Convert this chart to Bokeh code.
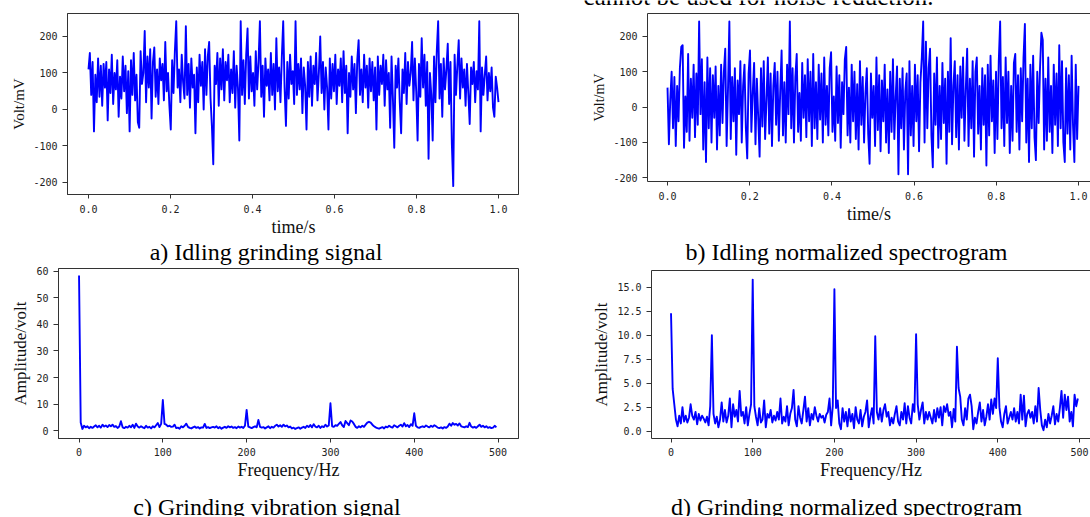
import numpy as np
from bokeh.plotting import figure
from bokeh.layouts import column, row
from bokeh.models import Range1d, FixedTicker, NumeralTickFormatter, LinearAxis, ColumnDataSource
from bokeh.embed import file_html
from bokeh.resources import INLINE
from bokeh.core.properties import value

# ---------------- data ----------------
idle_signal = [
    110, 155, 40, 130, -60, 95, 20, 140, 35, 120,
    10, 125, 60, 130, -30, 110, 45, 150, 15, 100,
    55, 135, -20, 90, 30, 145, 50, 120, -10, 105,
    -60, 135, 40, 155, 25, 95, -35, -50, 160, 70,
    100, 215, 20, 145, 60, 165, -25, 130, 170, 35,
    110, 15, 140, 80, 125, 25, 185, 50, 100, 10,
    -55, 135, 45, 160, 242, 60, 110, 20, 150, 75,
    30, 228, 40, 125, 5, 140, 60, 95, -65, 115,
    20, 150, 65, 130, 0, 165, 40, 145, 185, 30,
    -45, -150, 120, 70, 155, 10, 140, 55, 165, 25,
    130, 80, 150, 20, 110, 45, 160, 5, 120, 60,
    -85, 242, 40, 135, 15, 150, 222, 30, 145, 50,
    100, 10, 160, 55, 130, 242, 35, 120, -20, 140,
    65, 110, 25, 155, 40, 125, 0, 195, 50, 115,
    20, 145, 242, 60, -45, 130, 30, 150, 70, 105,
    15, 242, 40, 125, 55, 140, -10, 115, 65, -55,
    130, 35, 145, 10, 120, 70, 155, 25, 100, 200,
    45, 130, 0, 115, 60, -55, 140, 30, 125, 50,
    150, 15, 110, 65, 140, 20, 160, 45, 120, -65,
    100, 35, 145, 55, 125, -10, 135, 190, 40, 110,
    20, 150, 60, 120, 5, 140, 50, 130, 25, 115,
    -55, 145, 40, 120, 70, 150, 10, 135, 55, 100,
    -50, 145, 30, -105, 120, 60, 140, 20, -65, 110,
    45, 155, 15, 130, 65, 100, 185, 25, 140, 50,
    -85, 125, 35, 195, 60, 150, 10, 130, -135, 100,
    40, -85, 145, 20, 160, 242, 30, 125, -20, 140,
    55, 110, 180, 15, 130, -95, -210, 150, 40, 120,
    190, 30, 140, 60, 110, 10, 125, 45, -40, 115,
    70, 130, 20, 105, 55, 242, -60, 115, 40, 95,
    145, 25, 100, 50, 115, 5, -20, 90, 60, 20,
]

idle_normalized = [
    55, -105, 20, 100, -60, 85, -110, 60, -40, 110,
    170, 175, -115, 30, -70, 150, -95, 80, -30, 120,
    -85, 95, -50, 242, -20, 135, -120, 70, -155, 140,
    -60, 110, -100, 90, -30, 115, -120, 60, -80, 120,
    -45, 100, 165, -110, 50, 242, -90, 85, -40, 110,
    -135, 75, -20, 130, -100, 60, 120, -60, -145, 95,
    160, -70, 40, 125, -105, 80, -30, -140, 110, -55,
    130, -90, 20, 140, -75, 95, -110, 60, 125, -50,
    100, -95, 45, 160, -80, 70, -100, 120, -20, 242,
    -60, 110, -100, 85, 150, -70, 40, -95, 125, -30,
    90, -85, 135, -40, 100, -110, 150, -60, 70, -90,
    120, -35, 95, -100, 140, -50, 60, -80, 110, 155,
    -70, 30, -95, 115, -45, 90, -115, 70, -20, 135,
    170, -80, 55, -100, 120, -40, 100, -90, 65, -120,
    130, -50, 85, -100, 40, 110, -75, -160, 95, -30,
    60, -110, 140, -65, 90, -125, 75, -40, 120, -100,
    50, -130, 100, -70, 135, -90, 30, 115, -190, 80,
    -60, 110, -120, 45, 95, -190, 130, -80, 60, -110,
    120, -40, 90, -125, 70, 140, 242, -100, 185, -60,
    110, 165, -80, -170, 95, -50, 140, -115, 60, -90,
    125, -45, 80, -160, 100, -70, 195, -105, 60, 130,
    -85, 90, -120, 115, -30, 140, -95, 50, 165, -110,
    80, -60, 130, -140, 100, 140, -75, 60, -120, 110,
    -50, 90, -165, 120, -80, 145, -40, 75, -130, 100,
    -90, 130, 242, -60, 85, -110, 140, -45, 100, -130,
    60, -95, 125, 150, -70, 90, -120, 110, -40, 140,
    235, -100, 80, -155, 120, -60, 145, -85, -150, 100,
    -45, 110, 210, 190, -120, 80, -95, 140, -70, 60,
    -130, 120, -50, 95, -110, 175, -60, 130, -100, -155,
    110, -75, 90, -120, 145, -50, -155, 120, -90, 60,
]

grinding_spectrum = [
    58.5, 3.0, 0.6, 1.8, 1.2, 1.6, 0.9, 1.4, 1.0, 1.5,
    2.0, 1.2, 1.8, 1.1, 2.2, 1.5, 1.9, 1.3, 2.1, 1.6,
    2.2, 1.4, 1.7, 1.0, 1.5, 3.5, 1.2, 0.9, 1.4, 1.1,
    1.8, 1.2, 2.2, 1.0, 2.6, 1.5, 1.1, 1.6, 1.2, 0.9,
    1.8, 1.1, 1.4, 0.8, 1.6, 1.2, 2.0, 2.8, 1.3, 2.5,
    11.5, 2.5, 2.2, 1.6, 1.8, 1.4, 1.5, 2.2, 0.9, 1.1,
    0.7, 1.6, 1.2, 1.8, 2.6, 1.4, 1.0, 0.8, 1.2, 1.5,
    1.0, 1.3, 0.8, 1.2, 1.1, 2.5, 1.0, 1.3, 0.9, 1.2,
    1.4, 1.1, 1.6, 0.9, 1.3, 0.7, 1.1, 1.4, 1.0, 1.6,
    1.2, 1.5, 1.0, 1.3, 0.9, 1.5, 1.1, 1.4, 1.0, 1.8,
    7.8, 1.5, 1.2, 0.9, 1.3, 1.6, 1.2, 4.0, 1.4, 1.1,
    1.3, 0.8, 1.2, 1.6, 0.9, 1.4, 1.1, 1.8, 2.2, 1.5,
    2.0, 1.4, 2.2, 1.6, 1.9, 1.2, 1.5, 0.8, 1.1, 0.6,
    0.9, 1.2, 0.7, 1.1, 1.4, 1.0, 1.8, 1.3, 2.1, 1.2,
    2.4, 1.5, 1.2, 1.8, 1.0, 1.6, 1.3, 2.2, 1.5, 1.9,
    10.3, 1.6, 1.4, 2.0, 1.8, 2.5, 3.2, 2.0, 1.3, 3.6,
    2.8, 2.0, 3.8, 3.4, 2.5, 1.4, 1.0, 1.6, 1.2, 1.8,
    1.4, 2.2, 3.0, 3.3, 3.0, 2.2, 1.6, 1.2, 0.9, 0.7,
    1.0, 1.3, 0.8, 1.5, 1.2, 1.8, 1.4, 1.1, 2.0, 1.6,
    1.2, 1.8, 2.2, 1.5, 2.8, 1.6, 2.1, 1.3, 2.4, 1.8,
    6.5, 1.8, 1.2, 1.0, 1.4, 1.6, 1.3, 1.9, 1.5, 1.2,
    1.8, 1.4, 2.0, 1.6, 1.1, 0.9, 1.2, 0.8, 1.3, 1.0,
    1.5, 2.6, 1.8, 2.8, 2.2, 2.5, 1.9, 2.7, 1.6, 1.4,
    1.2, 1.6, 1.3, 2.9, 1.5, 1.1, 1.4, 1.0, 1.6, 2.2,
    1.4, 1.8, 1.2, 1.6, 1.0, 1.3, 0.9, 1.1, 1.8, 1.2,
]

grinding_normalized = [
    12.3, 4.4, 2.8, 1.2, 0.5, 1.6, 0.8, 2.5, 1.0, 1.6,
    0.9, 1.4, 2.8, 1.6, 1.2, 2.0, 0.7, 1.8, 1.1, 1.6,
    1.3, 0.9, 1.5, 0.6, 2.6, 10.0, 1.8, 0.8, 1.5, 0.4,
    1.2, 3.0, 1.0, 2.2, 0.9, 1.6, 3.4, 0.4, 2.8, 1.5,
    2.2, 1.0, 4.2, 1.6, 2.0, 0.8, 2.5, 0.6, 1.8, 2.8,
    15.8, 2.6, 1.5, 0.6, 2.4, 0.9, 1.2, 3.2, 0.4, 1.8,
    1.4, 2.2, 0.9, 1.6, 1.1, 2.0, 1.2, 3.4, 0.8, 1.5,
    1.0, 2.6, 0.6, 1.8, 2.4, 4.3, 1.2, 0.5, 2.6, 1.4,
    0.8, 2.2, 3.6, 1.0, 2.4, 0.6, 1.8, 1.2, 2.5, 1.6,
    1.0, 1.8, 1.4, 1.6, 0.9, 1.7, 2.0, 3.4, 0.6, 2.6,
    14.8, 2.4, 3.2, 0.8, 0.2, 2.4, 1.0, 2.0, 0.5, 2.3,
    1.0, 1.8, 0.3, 2.5, 1.2, 0.8, 2.2, 0.5, 1.5, 2.0,
    3.2, 0.4, 1.5, 2.4, 0.8, 9.9, 2.0, 1.2, 2.4, 1.0,
    2.2, 2.8, 1.5, 2.0, 0.6, 1.4, 0.8, 1.8, 2.6, 1.0,
    0.6, 2.0, 1.2, 2.9, 0.8, 2.6, 1.4, 0.8, 2.8, 2.0,
    10.1, 2.8, 1.2, 2.2, 3.0, 0.8, 2.0, 1.2, 2.0, 1.4,
    0.8, 2.2, 1.0, 2.4, 1.4, 2.5, 0.6, 2.6, 2.0, 2.8,
    1.6, 2.0, 0.4, 2.3, 1.0, 8.8, 4.5, 3.6, 1.2, 0.6,
    2.4, 1.2, 3.4, 3.8, 2.6, 0.2, 1.4, 0.8, 2.0, 3.0,
    1.0, 2.2, 0.6, 1.5, 2.8, 1.2, 3.3, 1.8, 3.4, 2.4,
    7.6, 2.5, 1.0, 0.4, 1.8, 2.6, 0.8, 1.4, 2.0, 1.2,
    2.4, 1.0, 2.0, 0.8, 3.8, 1.2, 3.7, 0.5, 1.8, 2.2,
    1.4, 2.0, 0.8, 2.6, 1.0, 4.5, 2.2, 0.6, 0.1, 1.2,
    0.4, 1.8, 0.8, 1.6, 2.6, 0.7, 1.8, 1.0, 2.4, 4.2,
    1.4, 3.8, 2.2, 3.6, 1.0, 2.0, 0.5, 3.8, 2.6, 3.4,
]

time_s = np.linspace(0.0, 1.0, len(idle_signal))
freq_step_hz = 2.0
freq_hz = np.arange(len(grinding_spectrum)) * freq_step_hz

time_ticks = [0.0, 0.2, 0.4, 0.6, 0.8, 1.0]
volt_ticks = [-200, -100, 0, 100, 200]
freq_ticks = [0, 100, 200, 300, 400, 500]
amp_ticks_c = [0, 10, 20, 30, 40, 50, 60]
amp_ticks_d = [0.0, 2.5, 5.0, 7.5, 10.0, 12.5, 15.0]

captions = [
    "a) Idling grinding signal",
    "b) Idling normalized spectrogram",
    "c) Grinding vibration signal",
    "d) Grinding normalized spectrogram",
]
top_fragment = "cannot be used for noise reduction."
time_label = "time/s"

AX = "#333333"
TICK_FONT = "DejaVu Sans Mono"
SERIF = "Liberation Serif"
PAGE_W = 1090


def panel(x, y, xr, yr, xticks, yticks, xfmt, yfmt, xlabel, ylabel, ylsize,
          w, h, left, right, top, bottom, xstandoff, xlstandoff, open_right):
    p = figure(width=w, height=h,
               min_border_left=left, min_border_right=right,
               min_border_top=top, min_border_bottom=bottom,
               x_range=Range1d(*xr), y_range=Range1d(*yr),
               output_backend="svg", toolbar_location=None, tools="")
    p.frame_align = False
    p.line(x, y, line_color="#0000ff", line_width=1.9, line_join="round")
    p.grid.visible = False
    p.background_fill_color = "white"
    p.border_fill_color = "white"
    p.outline_line_color = AX
    p.outline_line_width = 1
    p.xaxis.ticker = FixedTicker(ticks=xticks)
    p.yaxis.ticker = FixedTicker(ticks=yticks)
    p.xaxis.formatter = NumeralTickFormatter(format=xfmt)
    p.yaxis.formatter = NumeralTickFormatter(format=yfmt)
    if xlabel:
        p.xaxis.axis_label = xlabel
    p.yaxis.axis_label = ylabel
    for ax in (p.xaxis[0], p.yaxis[0]):
        ax.axis_line_color = AX
        ax.major_tick_line_color = AX
        ax.major_tick_out = 4
        ax.major_tick_in = 0
        ax.minor_tick_line_color = None
        ax.major_label_text_font = TICK_FONT
        ax.major_label_text_font_size = "10px"
        ax.major_label_text_color = "#222222"
        ax.axis_label_text_font = SERIF
        ax.axis_label_text_font_style = "normal"
        ax.axis_label_text_color = "#111111"
    p.xaxis.major_label_standoff = xstandoff
    p.xaxis.axis_label_standoff = xlstandoff
    p.xaxis.axis_label_text_font_size = "18px"
    p.yaxis.major_tick_out = 5
    p.yaxis.major_label_standoff = 5
    p.yaxis.axis_label_standoff = 3
    p.yaxis.axis_label_text_font_size = ylsize
    if open_right:
        p.outline_line_color = None
        top_ax = LinearAxis(ticker=FixedTicker(ticks=[]), major_tick_out=0,
                            major_tick_in=0, minor_tick_out=0, minor_tick_in=0,
                            major_label_standoff=0, axis_line_color=AX,
                            major_label_text_font_size="0px")
        p.add_layout(top_ax, "above")
    return p


def text_strip(w, h, xs, baseline, texts, size):
    s = figure(width=w, height=h, x_range=Range1d(0, w), y_range=Range1d(0, h),
               output_backend="svg", toolbar_location=None, tools="", min_border=0,
               x_axis_type=None, y_axis_type=None)
    s.frame_align = False
    s.outline_line_color = None
    s.grid.visible = False
    s.background_fill_color = "white"
    s.border_fill_color = "white"
    src = ColumnDataSource(dict(x=xs, y=[baseline] * len(xs), t=texts))
    s.text(x="x", y="y", text="t", source=src, text_font=value(SERIF),
           text_font_size=size, text_align="center", text_baseline="alphabetic",
           text_color="#000000")
    return s


# row 1: page y 12..266 (plot + text strip stacked per column)
pa = panel(time_s, idle_signal, (-0.0512, 1.0488), (-233, 263),
           time_ticks, volt_ticks, "0.0", "0", None, "Volt/mV", "15px",
           528, 208, 67, 10, 1, 26, 6, 2, False)
pb = panel(time_s, idle_normalized, (-0.0487, 1.0292), (-210.3, 264.5),
           time_ticks, volt_ticks, "0.0", "0", time_label, "Volt/mV", "14px",
           562, 214, 119, 0, 1, 43, 6, 1, True)
# strip under panel a: page y 220..266, holds the x-axis title and the caption
cap_a = text_strip(528, 46, [265.5], 15, captions[0:1], "24px")
cap_a.text(x=[293], y=[39.5], text=[time_label], text_font=value(SERIF),
           text_font_size="18px", text_align="center", text_baseline="alphabetic",
           text_color="#111111")
cap_b = text_strip(562, 40, [318], 15, captions[1:2], "24px")

# row 2: page y 266..482
pc = panel(freq_hz, grinding_spectrum, (-24.5, 524.4), (-3.0, 61.1),
           freq_ticks, amp_ticks_c, "0", "0", "Frequency/Hz", "Amplitude/volt", "17px",
           528, 216, 58, 10, 2, 42, 5, 1, False)
pd_ = panel(freq_hz, grinding_normalized, (-23.9, 513.5), (-0.77, 16.75),
            freq_ticks, amp_ticks_d, "0", "0.0", "Frequency/Hz", "Amplitude/volt", "17px",
            562, 216, 123, 0, 4, 42, 5, 1, True)

top_strip = text_strip(PAGE_W, 12, [758], 16.5, [top_fragment], "25px")
cap2 = text_strip(PAGE_W, 34, [266.5, 846], 9.5, captions[2:4], "24px")

layout = column(top_strip,
                row(column(pa, cap_a), column(pb, cap_b)),
                row(pc, pd_),
                cap2)

open("out.html", "w").write(file_html(layout, INLINE))
